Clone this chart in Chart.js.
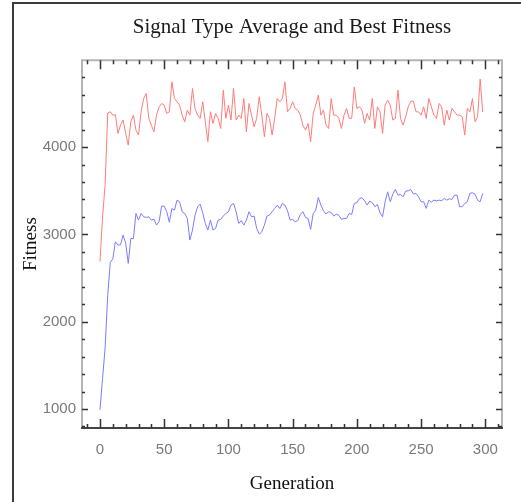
<!DOCTYPE html>
<html>
<head>
<meta charset="utf-8">
<title>Signal Type Average and Best Fitness</title>
<script src="https://cdn.jsdelivr.net/npm/chart.js@4"></script>
<style>
  html, body { margin: 0; padding: 0; background: #fff; }
  canvas { display: block; }
</style>
</head>
<body>
<canvas id="fitness-chart" width="521" height="502"></canvas>
<script>
// values, one sample every 2 generations
const GEN_STEP = 2;

const bestFitness = [
  2690, 3200, 3570, 4390, 4405, 4367, 4370, 4157, 4252, 4310,
  4157, 4023, 4290, 4367, 4195, 4138, 4405, 4557, 4615, 4329,
  4250, 4176, 4367, 4462, 4500, 4481, 4386, 4405, 4748, 4557,
  4520, 4481, 4367, 4290, 4424, 4367, 4672, 4443, 4367, 4329,
  4520, 4290, 4062, 4405, 4271, 4386, 4329, 4214, 4653, 4329,
  4481, 4310, 4672, 4310, 4367, 4329, 4557, 4176, 4500, 4367,
  4233, 4329, 4577, 4367, 4119, 4386, 4329, 4138, 4329, 4557,
  4520, 4557, 4748, 4405, 4443, 4520, 4443, 4424, 4367, 4252,
  4195, 4271, 4062, 4386, 4481, 4596, 4367, 4424, 4252, 4214,
  4557, 4367, 4367, 4329, 4214, 4367, 4443, 4329, 4329, 4690,
  4443, 4462, 4424, 4271, 4386, 4310, 4557, 4214, 4462, 4405,
  4157, 4481, 4538, 4481, 4310, 4329, 4653, 4329, 4252, 4348,
  4462, 4527, 4527, 4405, 4405, 4367, 4462, 4329, 4557, 4462,
  4367, 4329, 4500, 4462, 4252, 4424, 4310, 4443, 4405, 4367,
  4367, 4348, 4138, 4443, 4405, 4557, 4290, 4348, 4780, 4400
];

const averageFitness = [
  990, 1350, 1700, 2300, 2680, 2720, 2916, 2878, 2880, 2992,
  2900, 2668, 2955, 2950, 3240, 3164, 3240, 3202, 3195, 3202,
  3164, 3175, 3107, 3145, 3324, 3324, 3260, 3140, 3297, 3278,
  3393, 3374, 3260, 3240, 3183, 2935, 3050, 3220, 3316, 3347,
  3248, 3126, 3050, 3164, 3050, 3069, 3164, 3172, 3210, 3240,
  3260, 3336, 3355, 3260, 3126, 3157, 3107, 3164, 3260, 3202,
  3210, 3069, 3004, 3030, 3107, 3210, 3222, 3260, 3297, 3336,
  3297, 3355, 3336, 3271, 3164, 3172, 3145, 3157, 3229, 3260,
  3195, 3183, 3058, 3240, 3278, 3423, 3336, 3271, 3233, 3260,
  3252, 3210, 3233, 3218, 3172, 3183, 3183, 3240, 3229, 3355,
  3363, 3412, 3420, 3385, 3336, 3382, 3363, 3317, 3343, 3248,
  3202, 3374, 3488, 3374, 3462, 3515, 3450, 3458, 3431, 3496,
  3500, 3515, 3462, 3470, 3431, 3374, 3374, 3298, 3393, 3370,
  3393, 3385, 3393, 3385, 3412, 3393, 3408, 3400, 3450, 3450,
  3317, 3317, 3355, 3374, 3470, 3477, 3462, 3393, 3374, 3470
];

const generations = bestFitness.map((_, i) => i * GEN_STEP);

// tick labels
const xTickValues = [0, 50, 100, 150, 200, 250, 300];
const yTickValues = [1000, 2000, 3000, 4000];
const X_MINOR = 10;
const Y_MINOR = 200;

const tickFont = { family: "'Liberation Sans', Arial, sans-serif", size: 15 };
const serifFont = "'Liberation Serif', 'DejaVu Serif', serif";

// page frame, plot border and the inward tick marks on all four sides
const frameAndTicks = {
  id: "frameAndTicks",
  beforeDraw(chart) {
    const ctx = chart.ctx;
    ctx.save();
    ctx.fillStyle = "#ffffff";
    ctx.fillRect(0, 0, chart.width, chart.height);
    ctx.strokeStyle = "#3a3a3a";
    ctx.lineWidth = 2;
    ctx.beginPath();
    ctx.moveTo(13, chart.height);
    ctx.lineTo(13, 3);
    ctx.lineTo(chart.width, 3);
    ctx.stroke();
    ctx.restore();
  },
  afterDatasetsDraw(chart) {
    const { ctx, chartArea, scales } = chart;
    const { left, right, top, bottom } = chartArea;
    const x = scales.x;
    const y = scales.y;
    ctx.save();
    ctx.lineWidth = 2;
    // light sides
    ctx.strokeStyle = "#b4b4b4";
    ctx.beginPath();
    ctx.moveTo(left, bottom);
    ctx.lineTo(left, top);
    ctx.lineTo(right, top);
    ctx.lineTo(right, bottom);
    ctx.stroke();
    // dark bottom axis
    ctx.strokeStyle = "#444";
    ctx.beginPath();
    ctx.moveTo(left - 1, bottom);
    ctx.lineTo(right + 1, bottom);
    ctx.stroke();

    ctx.strokeStyle = "#333";
    ctx.lineWidth = 1.5;
    ctx.beginPath();
    const firstX = Math.ceil(x.min / X_MINOR) * X_MINOR;
    for (let v = firstX; v <= x.max; v += X_MINOR) {
      const px = Math.round(x.getPixelForValue(v)) + 0.5;
      const major = v % 50 === 0;
      ctx.moveTo(px, bottom);
      ctx.lineTo(px, bottom - (major ? 9 : 4));
      ctx.moveTo(px, top);
      ctx.lineTo(px, top + (major ? 9 : 4));
    }
    const firstY = Math.ceil(y.min / Y_MINOR) * Y_MINOR;
    for (let v = firstY; v < y.max; v += Y_MINOR) {
      const py = Math.round(y.getPixelForValue(v)) + 0.5;
      const major = v % 1000 === 0;
      ctx.moveTo(left, py);
      ctx.lineTo(left + (major ? 6 : 3), py);
      ctx.moveTo(right, py);
      ctx.lineTo(right - (major ? 6 : 3), py);
    }
    ctx.stroke();
    ctx.restore();
  }
};

const canvas = document.getElementById("fitness-chart");

new Chart(canvas, {
  type: "line",
  data: {
    labels: generations,
    datasets: [
      {
        label: "Best",
        data: bestFitness,
        borderColor: "#ff7c7c",
        borderWidth: 1,
        pointRadius: 0,
        tension: 0
      },
      {
        label: "Average",
        data: averageFitness,
        borderColor: "#7c7cff",
        borderWidth: 1,
        pointRadius: 0,
        tension: 0
      }
    ]
  },
  options: {
    responsive: false,
    animation: false,
    devicePixelRatio: 1,
    layout: { padding: { left: 0, right: 19, top: 0, bottom: 0 } },
    plugins: {
      legend: { display: false },
      tooltip: { enabled: false },
      title: {
        display: true,
        text: "Signal Type Average and Best Fitness",
        fullSize: false,
        color: "#1a1a1a",
        font: { family: serifFont, size: 21, weight: "normal", lineHeight: 1.2 },
        padding: { top: 15, bottom: 20 }
      }
    },
    scales: {
      x: {
        type: "linear",
        min: -14,
        max: 313,
        afterBuildTicks: (scale) => {
          scale.ticks = xTickValues.map((v) => ({ value: v }));
        },
        afterFit: (scale) => {
          scale.height = 74;
        },
        grid: { display: false, drawTicks: false },
        border: { display: false },
        ticks: {
          color: "#7a7a7a",
          font: tickFont,
          padding: 13,
          maxRotation: 0,
          autoSkip: false,
          callback: (v) => String(v)
        },
        title: {
          display: true,
          text: "Generation",
          color: "#111",
          font: { family: serifFont, size: 19, lineHeight: 1.2 },
          padding: { top: 0, bottom: 7 }
        }
      },
      y: {
        min: 782,
        max: 4996,
        afterBuildTicks: (scale) => {
          scale.ticks = yTickValues.map((v) => ({ value: v }));
        },
        afterFit: (scale) => {
          scale.width = 82;
        },
        grid: { display: false, drawTicks: false },
        border: { display: false },
        ticks: {
          color: "#7a7a7a",
          font: tickFont,
          padding: 6,
          callback: (v) => String(v)
        },
        title: {
          display: true,
          text: "Fitness",
          color: "#111",
          font: { family: serifFont, size: 19, lineHeight: 1.2 },
          padding: { top: 20, bottom: 0 }
        }
      }
    }
  },
  plugins: [frameAndTicks]
});
</script>
</body>
</html>
